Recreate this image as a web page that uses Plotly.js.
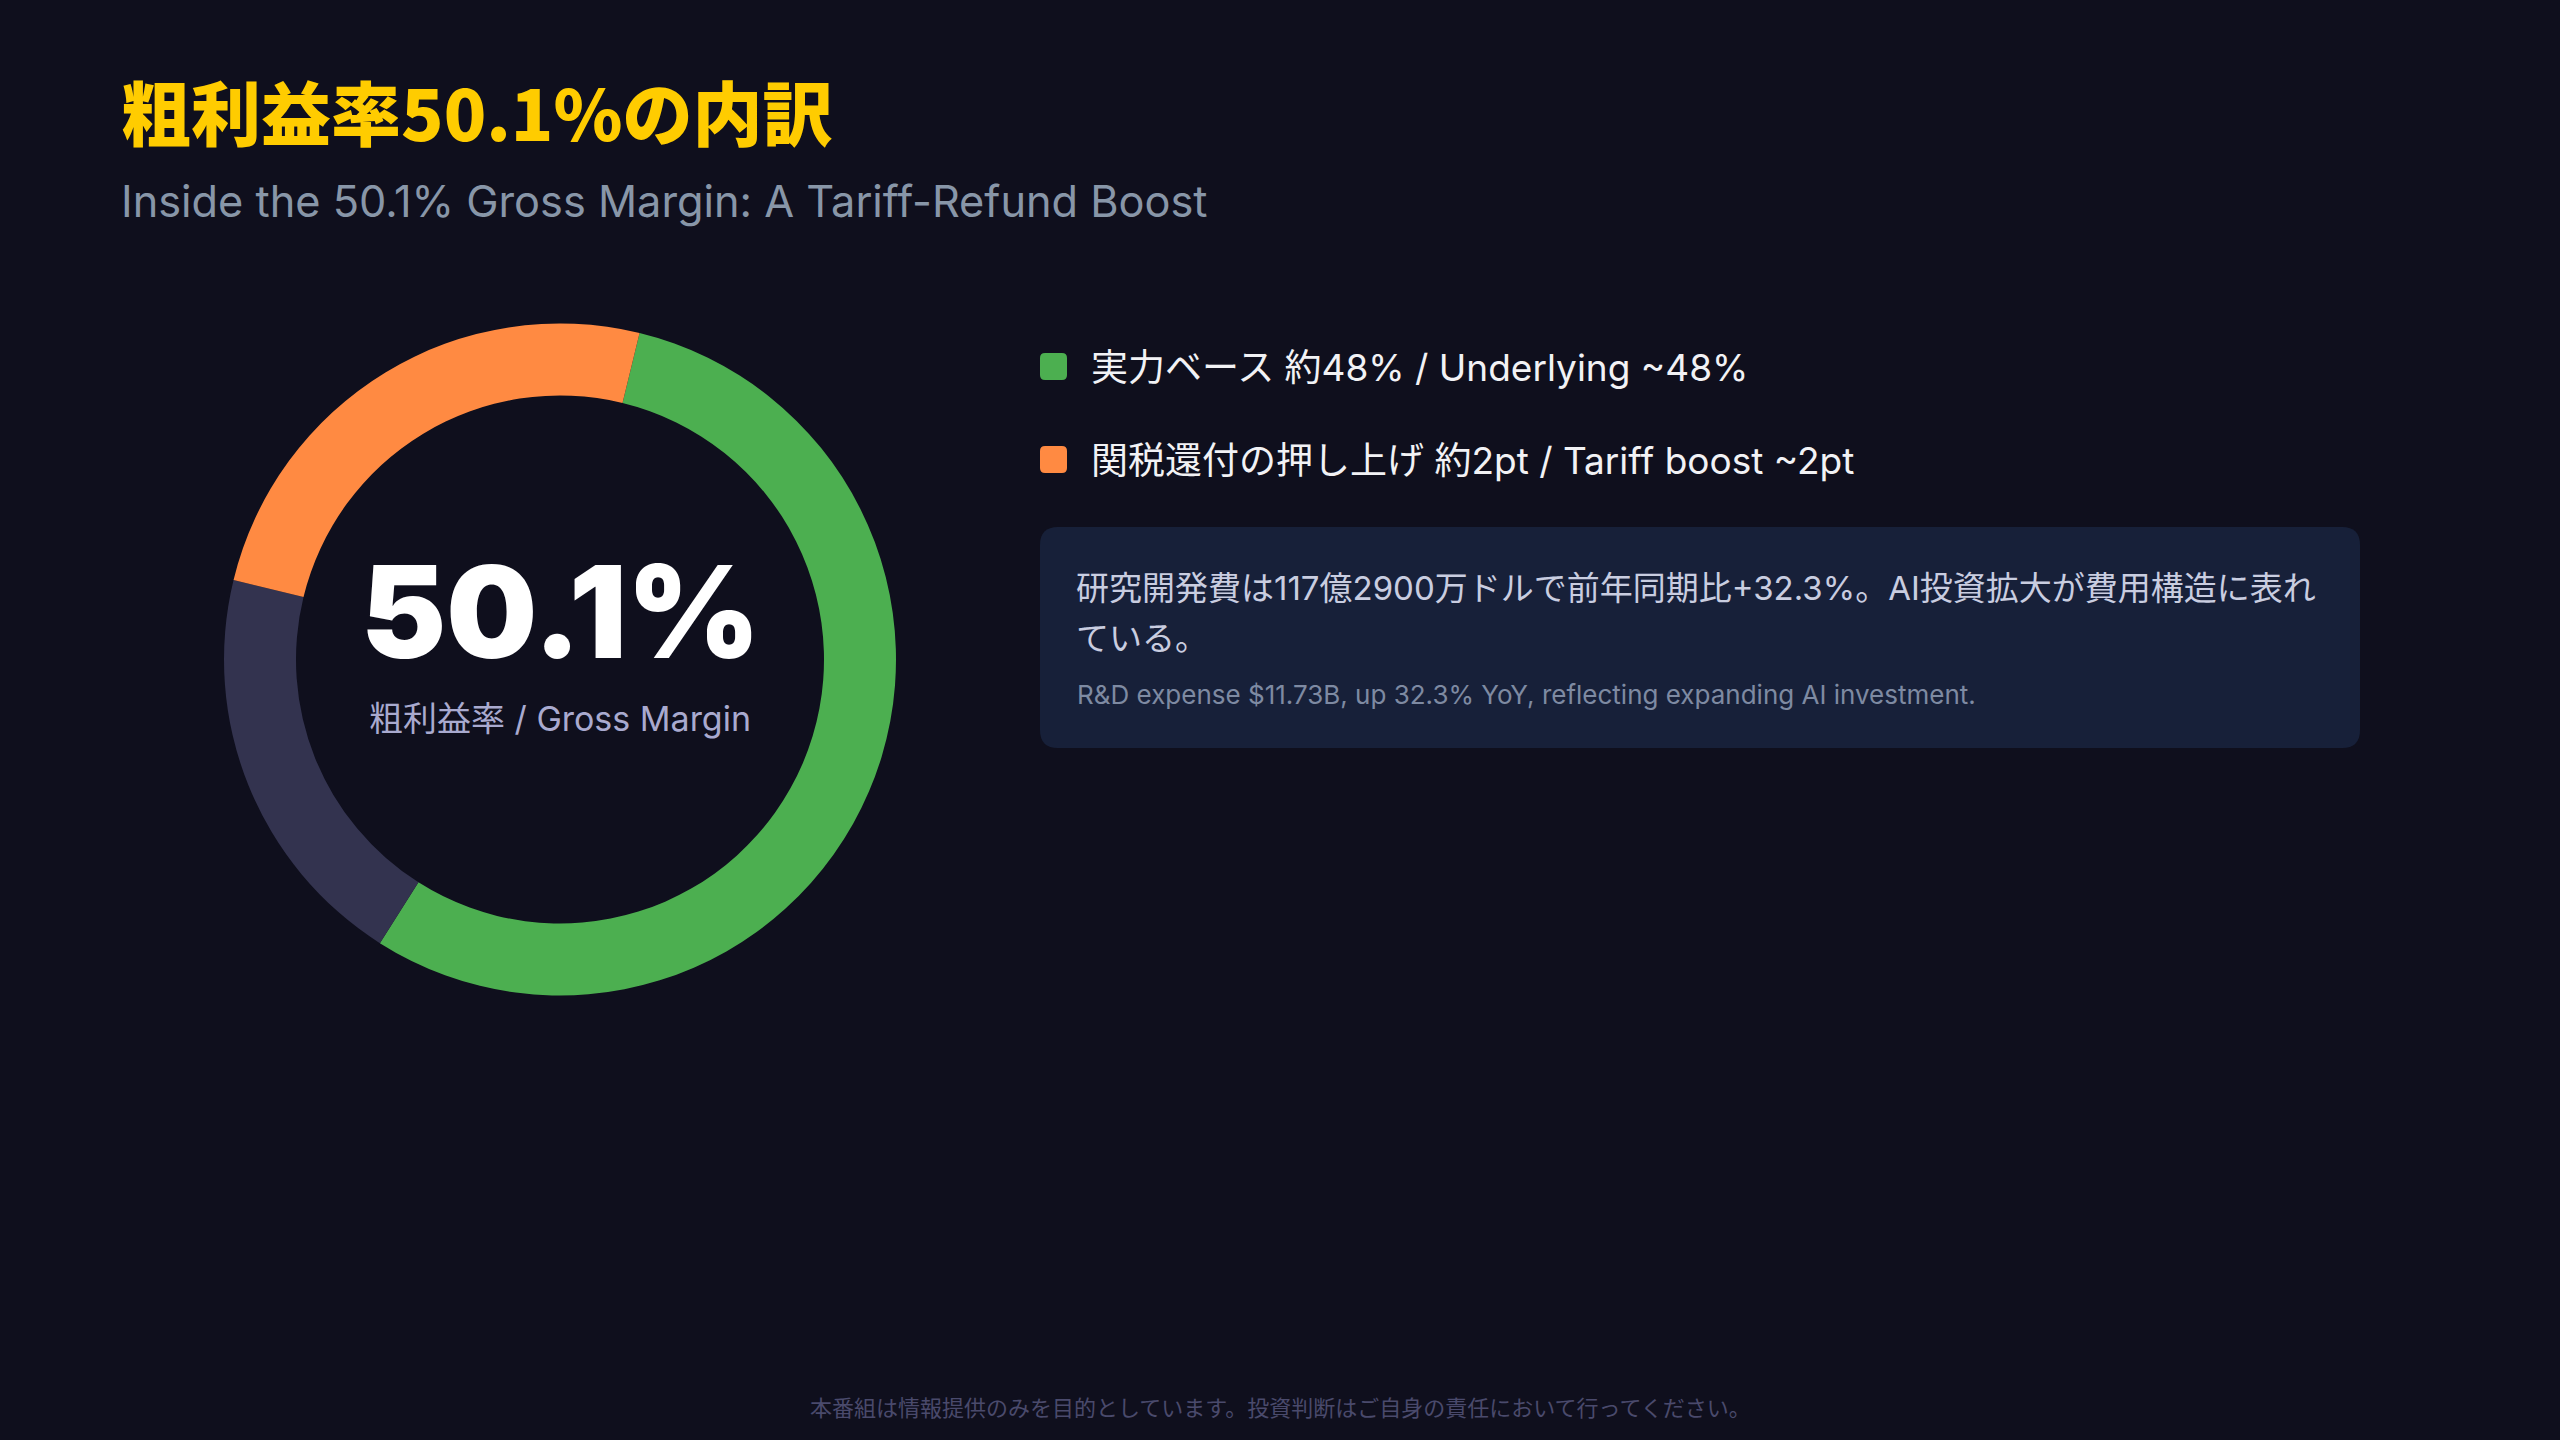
<!DOCTYPE html>
<html>
<head>
<meta charset="utf-8">
<script src="https://cdn.plot.ly/plotly-3.0.1.min.js"></script>
<style>
  html, body { margin: 0; padding: 0; background: #0f0f1d; }
  #chart { width: 2560px; height: 1440px; }
</style>
</head>
<body>
<div id="chart"></div>
<script>
// ---- data ----
const sliceNames = ["実力ベース 約48% / Underlying ~48%", "その他 / Other", "関税還付の押し上げ 約2pt / Tariff boost ~2pt"];
const sliceValues = [55.2, 19.8, 25.0];
const sliceColors = ["#4CAF50", "#33334F", "#FF8A42"];
const legendOrder = [0, 2];

const titleText = "粗利益率50.1%の内訳";
const subtitleText = "Inside the 50.1% Gross Margin: A Tariff-Refund Boost";
const centerValue = "50.1%";
const centerLabel = "粗利益率 / Gross Margin";
const noteJa1 = "研究開発費は117億2900万ドルで前年同期比+32.3%。AI投資拡大が費用構造に表れ";
const noteJa2 = "ている。";
const noteEn = "R&D expense $11.73B, up 32.3% YoY, reflecting expanding AI investment.";
const footerText = "本番組は情報提供のみを目的としています。投資判断はご自身の責任において行ってください。";

// ---- layout helpers ----
const W = 2560, H = 1440;
const JP = '"Noto Sans CJK JP", "Noto Sans", sans-serif';
const INTER = 'Inter, "Noto Sans CJK JP", sans-serif';

function roundRect(x0, y0, x1, y1, r) {
  return `M${x0 + r},${y0} L${x1 - r},${y0} Q${x1},${y0} ${x1},${y0 + r} ` +
         `L${x1},${y1 - r} Q${x1},${y1} ${x1 - r},${y1} L${x0 + r},${y1} ` +
         `Q${x0},${y1} ${x0},${y1 - r} L${x0},${y0 + r} Q${x0},${y0} ${x0 + r},${y0} Z`;
}

const cx = 560, cy = 659.5, R = 336;

const pie = {
  type: 'pie',
  values: sliceValues,
  labels: sliceNames,
  marker: { colors: sliceColors, line: { width: 0 } },
  hole: 264 / 336,
  sort: false,
  direction: 'clockwise',
  rotation: 13.7,
  textinfo: 'none',
  hoverinfo: 'skip',
  showlegend: false,
  domain: {
    x: [(cx - R) / W, (cx + R) / W],
    y: [1 - (cy + R) / H, 1 - (cy - R) / H]
  }
};

const shapes = [];
const annotations = [];

// card
shapes.push({ type: 'path', xref: 'x', yref: 'y', path: roundRect(1040, 527, 2360, 748, 18),
  fillcolor: '#172039', line: { width: 0 }, layer: 'below' });

// legend
const legendY = [367, 460];
legendOrder.forEach((idx, i) => {
  const y = legendY[i];
  shapes.push({ type: 'path', xref: 'x', yref: 'y', path: roundRect(1040, y - 14, 1067, y + 13, 5),
    fillcolor: sliceColors[idx], line: { width: 0 } });
  annotations.push({ xref: 'x', yref: 'y', x: 1089, y: y, xanchor: 'left', yanchor: 'middle',
    text: sliceNames[idx], showarrow: false, font: { family: INTER, size: 37, color: '#F2F2F5' } });
});

// titles
annotations.push({ xref: 'x', yref: 'y', x: 119, y: 110, xanchor: 'left', yanchor: 'middle',
  text: titleText, showarrow: false, font: { family: JP, size: 70, color: '#FFCC00', weight: 900 } });
annotations.push({ xref: 'x', yref: 'y', x: 119, y: 201, xanchor: 'left', yanchor: 'middle',
  text: subtitleText, showarrow: false, font: { family: INTER, size: 43.3, color: '#8896A8' } });

// center of donut
annotations.push({ xref: 'x', yref: 'y', x: cx, y: 611, xanchor: 'center', yanchor: 'middle',
  text: centerValue, showarrow: false, font: { family: INTER, size: 128, color: '#FFFFFF', weight: 900 } });
annotations.push({ xref: 'x', yref: 'y', x: cx, y: 718, xanchor: 'center', yanchor: 'middle',
  text: centerLabel, showarrow: false, font: { family: INTER, size: 34, color: '#A9AACF' } });

// card text
annotations.push({ xref: 'x', yref: 'y', x: 1074, y: 588, xanchor: 'left', yanchor: 'middle',
  text: noteJa1, showarrow: false, font: { family: INTER, size: 33, color: '#C9CDE0' } });
annotations.push({ xref: 'x', yref: 'y', x: 1074, y: 638, xanchor: 'left', yanchor: 'middle',
  text: noteJa2, showarrow: false, font: { family: INTER, size: 33, color: '#C9CDE0' } });
annotations.push({ xref: 'x', yref: 'y', x: 1075, y: 694, xanchor: 'left', yanchor: 'middle',
  text: noteEn, showarrow: false, font: { family: INTER, size: 26, color: '#7E8AA2' } });

// footer
annotations.push({ xref: 'x', yref: 'y', x: 1280, y: 1406, xanchor: 'center', yanchor: 'middle',
  text: footerText, showarrow: false, font: { family: JP, size: 22, color: '#4A4A6C' } });

const layout = {
  width: W, height: H,
  margin: { l: 0, r: 0, t: 0, b: 0, pad: 0 },
  paper_bgcolor: '#0f0f1d',
  plot_bgcolor: 'rgba(0,0,0,0)',
  showlegend: false,
  xaxis: { range: [0, W], visible: false, fixedrange: true },
  yaxis: { range: [H, 0], visible: false, fixedrange: true },
  shapes: shapes,
  annotations: annotations
};

Plotly.newPlot('chart', [pie], layout, { displayModeBar: false, staticPlot: true });
</script>
</body>
</html>
